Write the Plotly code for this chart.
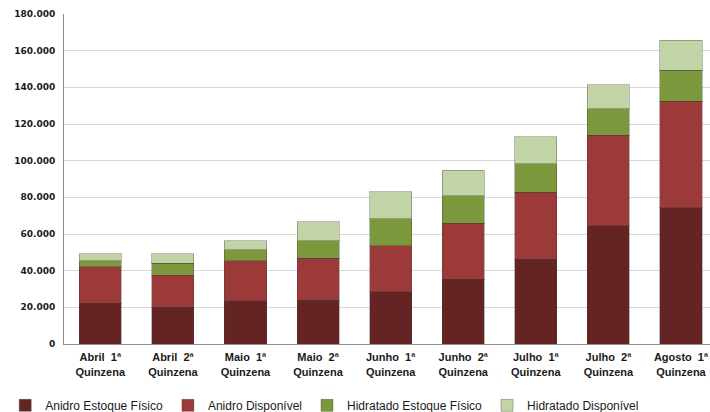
import plotly.graph_objects as go

# Quinzenas (categories)
categorias = [
    "Abril\u00a0\u00a01ª<br>Quinzena",
    "Abril\u00a0\u00a02ª<br>Quinzena",
    "Maio\u00a0\u00a01ª<br>Quinzena",
    "Maio\u00a0\u00a02ª<br>Quinzena",
    "Junho\u00a0\u00a01ª<br>Quinzena",
    "Junho\u00a0\u00a02ª<br>Quinzena",
    "Julho\u00a0\u00a01ª<br>Quinzena",
    "Julho\u00a0\u00a02ª<br>Quinzena",
    "Agosto\u00a0\u00a01ª<br>Quinzena",
]

# Stock volumes (m³)
anidro_estoque = [22200, 20000, 23500, 24000, 28500, 35300, 46200, 64400, 74300]
anidro_disponivel = [20000, 17600, 21900, 22700, 25000, 30500, 36700, 49400, 58100]
hidratado_estoque = [3100, 6400, 5900, 9700, 14900, 15100, 15300, 14600, 16900]
hidratado_disponivel = [3800, 5100, 5100, 10300, 14700, 14000, 14900, 12900, 16500]

series = [
    ("Anidro Estoque Físico", anidro_estoque, "#652424"),
    ("Anidro Disponível", anidro_disponivel, "#9c3a3a"),
    ("Hidratado Estoque Físico", hidratado_estoque, "#7b993c"),
    ("Hidratado Disponível", hidratado_disponivel, "#c2d3a6"),
]

fig = go.Figure()
for nome, valores, cor in series:
    fig.add_trace(go.Bar(
        name=nome,
        x=list(range(len(categorias))),
        y=valores,
        width=0.58,
        marker=dict(color=cor, line=dict(color="rgba(60,60,60,0.35)", width=1)),
    ))

fig.update_layout(
    barmode="stack",
    width=710,
    height=412,
    margin=dict(l=64, r=0, t=14, b=68, autoexpand=False),
    paper_bgcolor="white",
    plot_bgcolor="white",
    separators=",.",
    showlegend=True,
    legend=dict(
        orientation="h",
        x=-0.091,
        xanchor="left",
        y=-0.142,
        yanchor="top",
        font=dict(family="Liberation Sans", size=12, color="#1a1a1a"),
        traceorder="normal",
    ),
    xaxis=dict(
        range=[-0.5, 8.4],
        tickmode="array",
        tickvals=list(range(len(categorias))),
        ticktext=categorias,
        tickangle=0,
        tickfont=dict(family="Liberation Sans", size=11, color="#1a1a1a", weight="bold"),
        showline=True,
        linecolor="#8c8c8c",
        linewidth=1,
        showgrid=False,
        ticks="",
        automargin=False,
        ticklabelstandoff=3,
    ),
    yaxis=dict(
        range=[0, 180000],
        dtick=20000,
        tickformat=",d",
        tickfont=dict(family="DejaVu Sans", size=9, color="#1a1a1a", weight="bold"),
        showline=True,
        linecolor="#8c8c8c",
        linewidth=1,
        gridcolor="#d9d9d9",
        gridwidth=1,
        zeroline=False,
        ticks="",
        automargin=False,
        ticklabelstandoff=6,
    ),
)

fig.write_html("out.html")
